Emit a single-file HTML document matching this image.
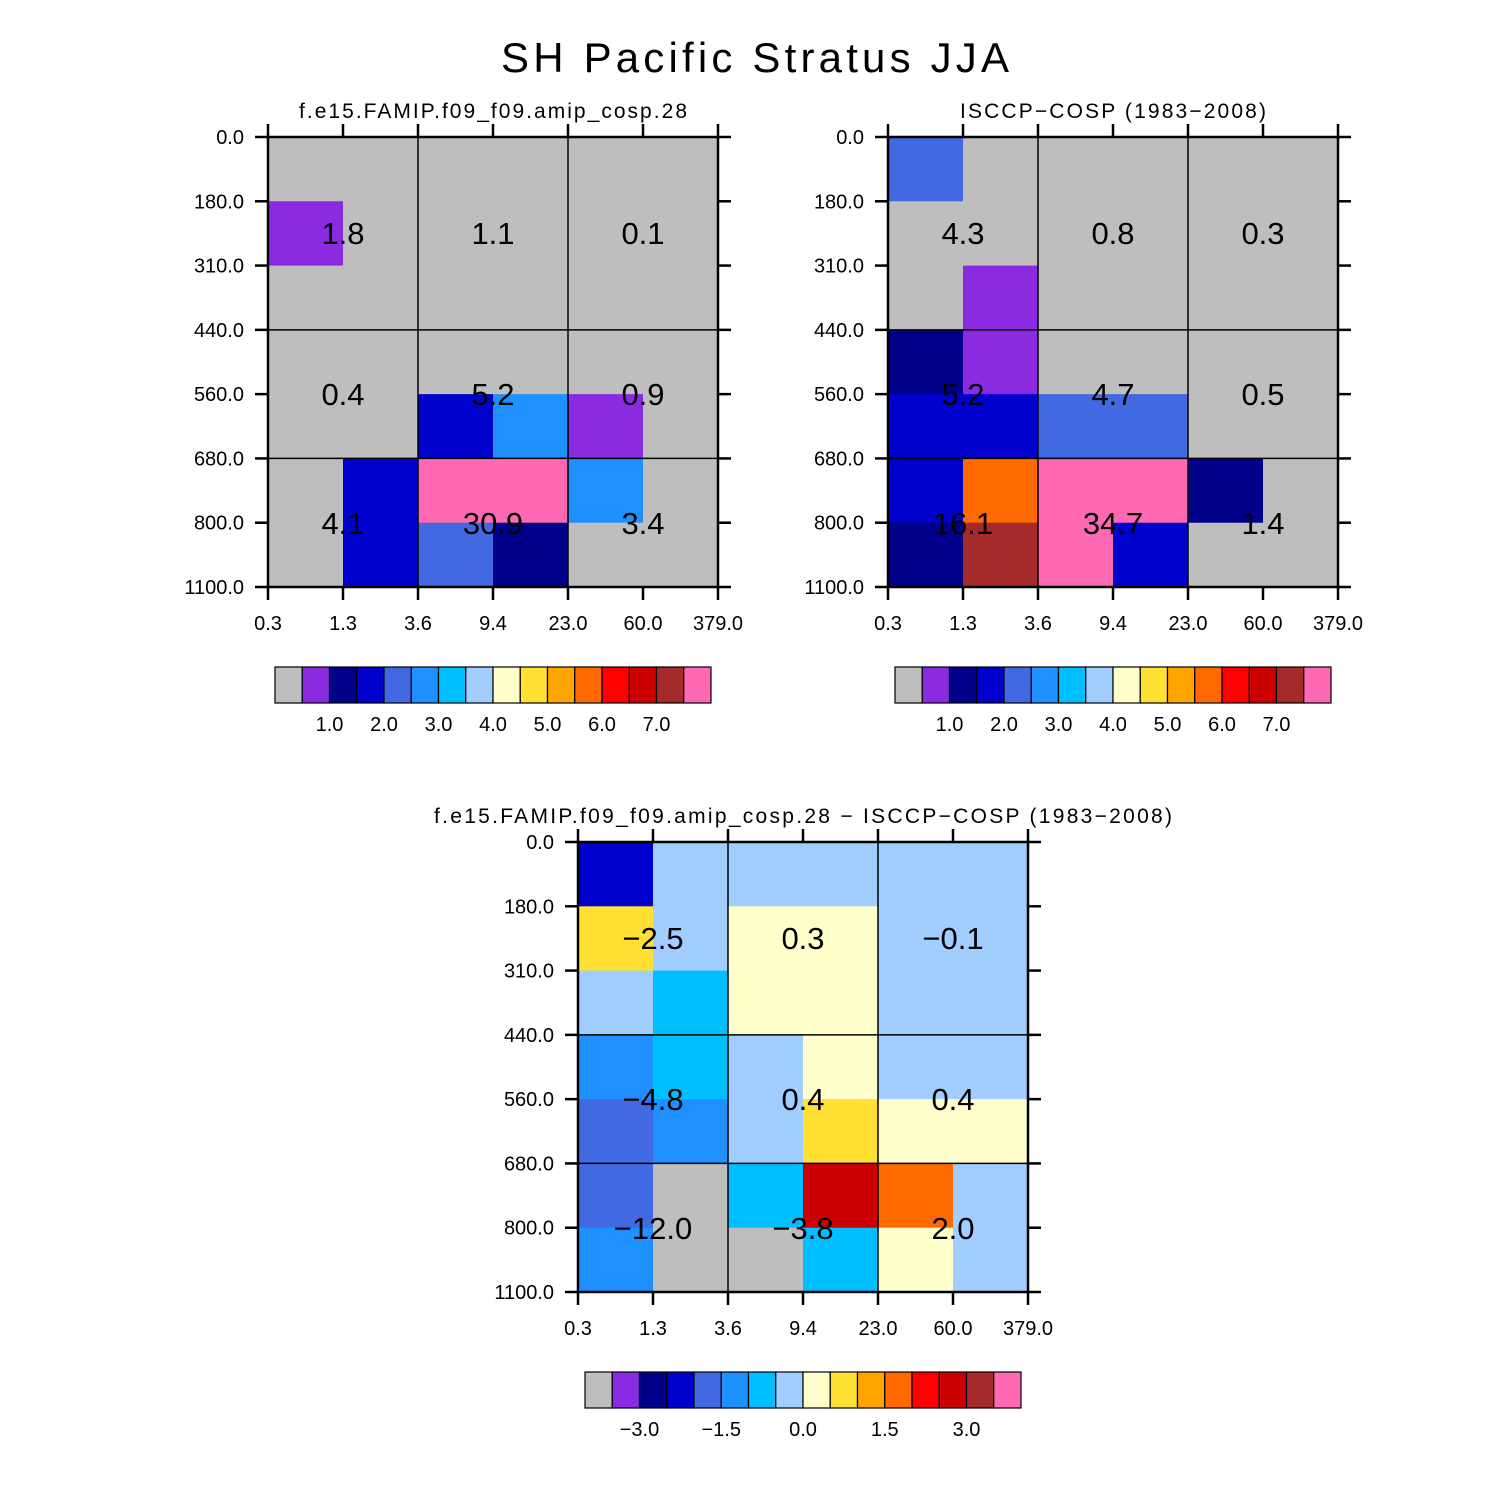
<!DOCTYPE html>
<html><head><meta charset="utf-8"><style>
html,body{margin:0;padding:0;background:#fff;}
svg{display:block;font-family:"Liberation Sans",sans-serif;}
</style></head><body>
<svg id="chart" width="1510" height="1510" viewBox="0 0 1510 1510" xmlns="http://www.w3.org/2000/svg">
<rect x="0" y="0" width="1510" height="1510" fill="#fff"/>
<text x="755" y="72" text-anchor="middle" font-size="42" fill="#000" textLength="508" lengthAdjust="spacing">SH Pacific Stratus JJA</text>
</svg>
<script>
const palette = ["#BEBEBE","#8A2BE2","#00008B","#0000CD","#4169E1","#1E90FF","#00BFFF","#A2CDFF","#FFFFCC","#FFE033","#FFA500","#FF6A00","#FF0000","#CC0000","#A52A2A","#FF69B4"];
const xTicks = ["0.3","1.3","3.6","9.4","23.0","60.0","379.0"];
const yTicks = ["0.0","180.0","310.0","440.0","560.0","680.0","800.0","1100.0"];
const model = [
 [0,0,0,0,0,0],
 [1,0,0,0,0,0],
 [0,0,0,0,0,0],
 [0,0,0,0,0,0],
 [0,0,3,5,1,0],
 [0,3,15,15,5,0],
 [0,3,4,2,0,0]];
const obs = [
 [4,0,0,0,0,0],
 [0,0,0,0,0,0],
 [0,1,0,0,0,0],
 [2,1,0,0,0,0],
 [3,3,4,4,0,0],
 [3,11,15,15,2,0],
 [2,14,15,3,0,0]];
const diff = [
 [3,7,7,7,7,7],
 [9,7,8,8,7,7],
 [7,6,8,8,7,7],
 [5,6,7,8,7,7],
 [4,5,7,9,8,8],
 [4,0,6,13,11,7],
 [5,0,0,6,8,7]];
const modelVals = ["1.8","1.1","0.1","0.4","5.2","0.9","4.1","30.9","3.4"];
const obsVals = ["4.3","0.8","0.3","5.2","4.7","0.5","16.1","34.7","1.4"];
const diffVals = ["\u22122.5","0.3","\u22120.1","\u22124.8","0.4","0.4","\u221212.0","\u22123.8","2.0"];
const cbLabelsAbs = ["1.0","2.0","3.0","4.0","5.0","6.0","7.0"];
const cbPosAbs = [2,4,6,8,10,12,14];
const cbLabelsDiff = ["\u22123.0","\u22121.5","0.0","1.5","3.0"];
const cbPosDiff = [2,5,8,11,14];

const svg = document.getElementById('chart');
const NS = "http://www.w3.org/2000/svg";
function mk(tag, attrs, parent){const e=document.createElementNS(NS,tag);for(const k in attrs)e.setAttribute(k,attrs[k]);(parent||svg).appendChild(e);return e;}

function panel(name, title, titleLen, x0, y0, grid, vals, cbY, cbLabels, cbPos){
  const W=450,H=450,nc=6,nr=7;
  const g=mk('g',{});
  
  
  const xs=c=>x0+c*W/nc, ys=r=>y0+r*H/nr;
  const t=mk('text',{x:x0+W/2,y:y0-19,'text-anchor':'middle','font-size':21,textLength:titleLen,lengthAdjust:'spacing'},g);
  t.textContent=title;
  
  
  grid.forEach((row,r)=>row.forEach((v,c)=>{
    const rc=mk('rect',{x:xs(c),y:ys(r),width:W/nc+0.6,height:H/nr+0.6,fill:palette[v]},g);
    
    
  }));
  [2,4].forEach(c=>mk('line',{x1:xs(c),x2:xs(c),y1:y0,y2:y0+H,stroke:'#000','stroke-width':1.5},g));
  [3,5].forEach(r=>mk('line',{x1:x0,x2:x0+W,y1:ys(r),y2:ys(r),stroke:'#000','stroke-width':1.5},g));
  mk('rect',{x:x0,y:y0,width:W,height:H,fill:'none',stroke:'#000','stroke-width':2.5},g);
  xTicks.forEach((l,i)=>{const x=xs(i);
    mk('line',{x1:x,x2:x,y1:y0+H,y2:y0+H+13,stroke:'#000','stroke-width':2.5},g);
    mk('line',{x1:x,x2:x,y1:y0,y2:y0-13,stroke:'#000','stroke-width':2.5},g);
    const tt=mk('text',{x:x,y:y0+H+43,'text-anchor':'middle','font-size':20},g);tt.textContent=l;
    
    });
  yTicks.forEach((l,i)=>{const y=ys(i);
    mk('line',{x1:x0-13,x2:x0,y1:y,y2:y,stroke:'#000','stroke-width':2.5},g);
    mk('line',{x1:x0+W,x2:x0+W+13,y1:y,y2:y,stroke:'#000','stroke-width':2.5},g);
    const tt=mk('text',{x:x0-24,y:y+7,'text-anchor':'end','font-size':20},g);tt.textContent=l;
    
    });
  const cyc=[y0+96,y0+257,y0+386];
  vals.forEach((v,i)=>{const c=i%3,r=Math.floor(i/3);
    const tt=mk('text',{x:xs(2*c+1),y:cyc[r]+11,'text-anchor':'middle','font-size':31},g);tt.textContent=v;
    
    });
  const cbx=x0+7,bw=436/16;
  palette.forEach((col,i)=>{const b=mk('rect',{x:cbx+i*bw,y:cbY,width:bw,height:36,fill:col,stroke:'#000','stroke-width':1.2},g);
    
    });
  cbLabels.forEach((l,i)=>{const tt=mk('text',{x:cbx+cbPos[i]*bw,y:cbY+64,'text-anchor':'middle','font-size':20},g);tt.textContent=l;
    
    });
}
panel('model-panel','f.e15.FAMIP.f09_f09.amip_cosp.28',388,268,137,model,modelVals,667,cbLabelsAbs,cbPosAbs);
panel('obs-panel','ISCCP\u2212COSP (1983\u22122008)',306,888,137,obs,obsVals,667,cbLabelsAbs,cbPosAbs);
panel('diff-panel','f.e15.FAMIP.f09_f09.amip_cosp.28 \u2212 ISCCP\u2212COSP (1983\u22122008)',738,578,842,diff,diffVals,1372,cbLabelsDiff,cbPosDiff);
</script>
</body></html>
